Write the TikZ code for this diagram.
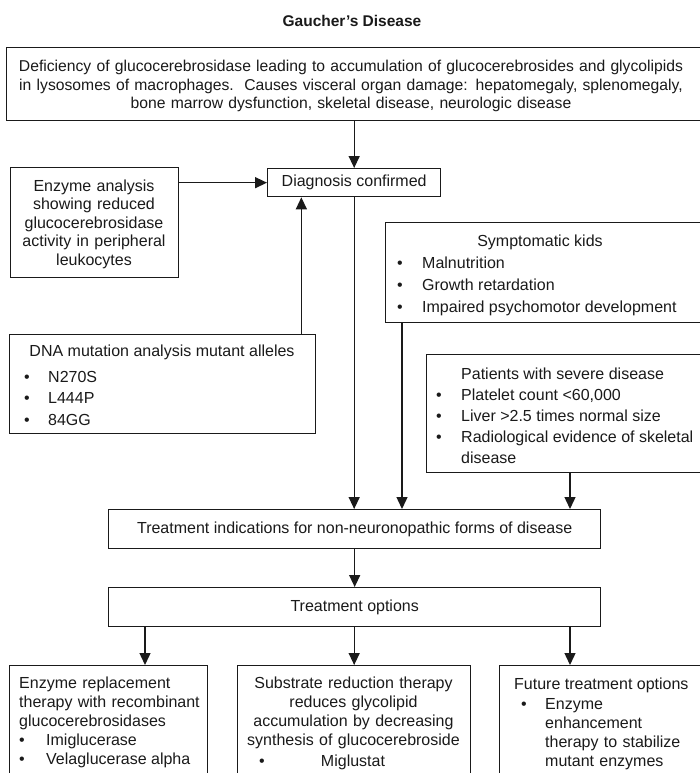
\documentclass[tikz,border=0pt]{standalone}
\usepackage{fontspec}
\setmainfont{Liberation Sans}
\usetikzlibrary{arrows.meta,calc}
\definecolor{ink}{HTML}{1A1A1A}
\begin{document}
\begin{tikzpicture}[x=1pt,y=-1pt,
  box/.style={draw=ink, line width=1.35pt, inner sep=0pt, anchor=north west},
  txt/.style={inner sep=0pt, text=ink, font=\fontsize{16}{18.5}\selectfont},
  ctxt/.style={txt, align=center, anchor=base, text width=#1},
  ltxt/.style={txt, align=left, anchor=base west, text width=#1},
  arr/.style={draw=ink, line width=1.35pt, -{Triangle[length=12pt,width=11pt]}},
  bul/.style={txt, anchor=base west},
]
\useasboundingbox (0,0) rectangle (700,773);
\clip (0,0) rectangle (700,773);
\fill[white] (0,0) rectangle (700,773);

% title
\node[txt, font=\fontsize{15.5}{18}\selectfont\bfseries, anchor=center] (title) at (352,21) {Gaucher’s Disease};

% boxes
\node[box, minimum width=720pt, minimum height=73pt]  (top)   at (6,47)   {};
\node[box, minimum width=173pt, minimum height=28pt]  (diag)  at (267,168) {};
\node[box, minimum width=168pt, minimum height=110pt] (enz)   at (10,167) {};
\node[box, minimum width=330pt, minimum height=100pt] (symp)  at (385,222) {};
\node[box, minimum width=306pt, minimum height=99pt]  (dna)   at (9,334)  {};
\node[box, minimum width=290pt, minimum height=118pt] (pat)   at (426,354) {};
\node[box, minimum width=492pt, minimum height=39pt]  (treat) at (108,509) {};
\node[box, minimum width=492pt, minimum height=39pt]  (opts)  at (108,587) {};
\node[box, minimum width=198pt, minimum height=130pt] (ert)   at (9,665)  {};
\node[box, minimum width=233pt, minimum height=130pt] (srt)   at (237,665) {};
\node[box, minimum width=220pt, minimum height=130pt] (fut)   at (499,665) {};

% texts
\node[ctxt=690pt, font=\fontsize{15.7}{18.5}\selectfont] (toptext) at (351,72)
  {Deficiency of glucocerebrosidase leading to accumulation of glucocerebrosides and glycolipids\\
   in lysosomes of macrophages.\ \ Causes visceral organ damage: hepatomegaly, splenomegaly,\\
   bone marrow dysfunction, skeletal disease, neurologic disease};

\node[txt, anchor=center] (diagtext) at (diag.center) {Diagnosis confirmed};

\node[ctxt=165pt] (enztext) at (94,191)
  {Enzyme analysis\\showing reduced\\glucocerebrosidase\\activity in peripheral\\leukocytes};

\node[txt, anchor=base] (symptitle) at (540,246) {Symptomatic kids};
\node[bul] (sb1) at (397,268) {•};
\node[bul] (sb2) at (397,290) {•};
\node[bul] (sb3) at (397,312) {•};
\node[bul] (st1) at (422,268) {Malnutrition};
\node[bul] (st2) at (422,290) {Growth retardation};
\node[bul] (st3) at (422,312) {Impaired psychomotor development};

\node[txt, anchor=base] (dnatitle) at (162,356) {DNA mutation analysis mutant alleles};
\node[bul] (db1) at (24,382) {•};
\node[bul] (db2) at (24,403.5) {•};
\node[bul] (db3) at (24,425) {•};
\node[bul] (dt1) at (48,382) {N270S};
\node[bul] (dt2) at (48,403.5) {L444P};
\node[bul] (dt3) at (48,425) {84GG};

\node[bul] (pattitle) at (461,379) {Patients with severe disease};
\node[bul] (pb1) at (436,400) {•};
\node[bul] (pb2) at (436,421) {•};
\node[bul] (pb3) at (436,442) {•};
\node[bul] (pt1) at (461,400) {Platelet count <60,000};
\node[bul] (pt2) at (461,421) {Liver >2.5 times normal size};
\node[bul] (pt3) at (461,442) {Radiological evidence of skeletal};
\node[bul] (pt4) at (461,463) {disease};

\node[txt, anchor=center] (treattext) at (treat.center) {Treatment indications for non-neuronopathic forms of disease};
\node[txt, anchor=center] (optstext) at (opts.center) {Treatment options};

\node[ltxt=190pt, font=\fontsize{16}{19}\selectfont] (erttext) at (19,688)
  {Enzyme replacement\\therapy with recombinant\\glucocerebrosidases};
\node[bul] (eb1) at (19,745) {•};
\node[bul] (eb2) at (19,764) {•};
\node[bul] (et1) at (46,745) {Imiglucerase};
\node[bul] (et2) at (46,764) {Velaglucerase alpha};

\node[ctxt=230pt, font=\fontsize{16}{19}\selectfont] (srttext) at (353.5,688)
  {Substrate reduction therapy\\reduces glycolipid\\accumulation by decreasing\\synthesis of glucocerebroside};
\node[bul] (mb1) at (259,766) {•};
\node[txt, anchor=base] (mt1) at (353,766) {Miglustat};

\node[bul] (futtitle) at (514,689) {Future treatment options};
\node[bul] (fb1) at (521,709) {•};
\node[ltxt=150pt, font=\fontsize{16}{19}\selectfont] (ft1) at (545,709)
  {Enzyme\\enhancement\\therapy to stabilize\\mutant enzymes};

% connectors
\coordinate (dnaout) at ($(dna.north east)+(-15,0)$);
\coordinate (sympout) at ($(symp.south west)+(17,0)$);
\coordinate (patout) at ($(pat.south west)+(144,0)$);
\coordinate (optl) at ($(opts.south west)+(37,0)$);
\coordinate (optr) at ($(opts.south west)+(462,0)$);

\draw[arr] (top.south -| diag.north) -- (diag.north);
\draw[arr] (enz.east |- diag.west) -- (diag.west);
\draw[arr] (dnaout) -- (dnaout |- diag.south);
\draw[arr] (diag.south) -- (diag.south |- treat.north);
\draw[arr] (sympout) -- (sympout |- treat.north);
\draw[arr] (patout) -- (patout |- treat.north);
\draw[arr] (treat.south) -- (opts.north);
\draw[arr] (optl) -- (optl |- ert.north);
\draw[arr] (opts.south -| srt.north) -- (srt.north);
\draw[arr] (optr) -- (optr |- fut.north);
\end{tikzpicture}
\end{document}
